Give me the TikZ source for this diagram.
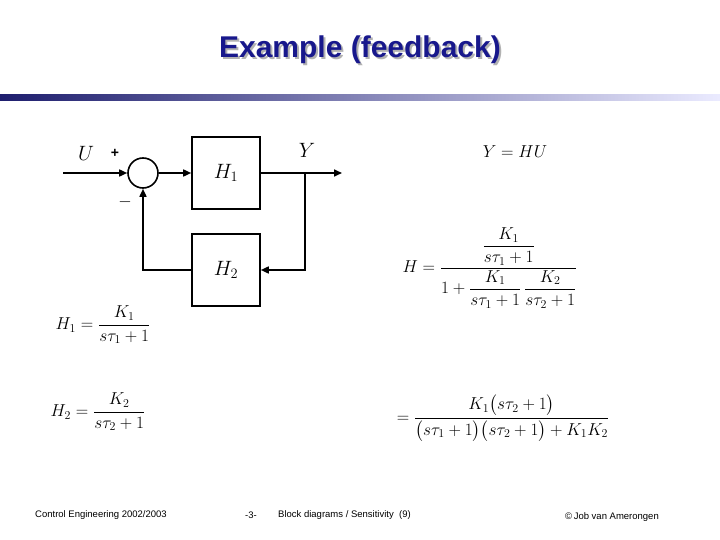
\documentclass[tikz,border=0pt]{standalone}
\usepackage{amsmath}
\usepackage{fontspec}
\setmainfont{Liberation Sans}
\usetikzlibrary{positioning, arrows.meta, calc, shadows}

\definecolor{titleblue}{RGB}{24,24,140}
\definecolor{barblue}{RGB}{30,30,110}

\begin{document}
\begin{tikzpicture}[
  x=1pt, y=-1pt,
  block/.style={draw, line width=1.6pt, minimum width=68pt, minimum height=72pt, font=\fontsize{20}{22}\selectfont},
  sumnode/.style={draw, circle, line width=1.6pt, minimum size=30pt, inner sep=0pt},
  sig/.style={line width=1.6pt, -{Triangle[length=8pt,width=7pt]}},
  eqn/.style={font=\fontsize{17}{20}\selectfont, inner sep=0pt},
  foot/.style={font=\fontsize{9.5}{11}\selectfont, anchor=west, inner sep=0pt}
]
\useasboundingbox (0,0) rectangle (720,540);

% Title and bar
\node[font=\fontsize{30}{34}\selectfont\bfseries, text=gray!60] at (362,52) {Example (feedback)};
\node[font=\fontsize{30}{34}\selectfont\bfseries, text=titleblue] (title) at (360,50) {Example (feedback)};
\shade[left color=barblue, right color=blue!8] (0,95) rectangle (720,101);

% Block diagram
\coordinate (in) at (63,173);
\node[sumnode] (sum) at (143,173) {};
\node[block] (h1) at (226,173) {$H_1$};
\node[block] (h2) at (226,270) {$H_2$};
\coordinate (branch) at (305,173);
\coordinate (out) at (342,173);

\draw[sig] (in) -- (sum);
\draw[sig] (sum) -- (h1);
\draw[sig] (h1) -- (out);
\draw[sig] (branch) |- (h2);
\draw[sig] (h2) -| (sum);

\node[font=\fontsize{20}{22}\selectfont] (ulabel) at (86,153) {$U$};
\node[font=\fontsize{14}{16}\selectfont\bfseries] (plus) at (115,153) {+};
\node[font=\fontsize{18}{20}\selectfont] (minus) at (125,202) {$-$};
\node[font=\fontsize{20}{22}\selectfont] (ylabel) at (307,150) {$Y$};

% Equations left
\node[eqn] (eqh1) at (103,325) {$H_1=\dfrac{K_1}{s\tau_1+1}$};
\node[eqn] (eqh2) at (98,412) {$H_2=\dfrac{K_2}{s\tau_2+1}$};

% Equations right
\node[eqn] (eqy) at (515,152) {$Y=HU$};
\node[eqn] (eqh) at (490,268) {$H=\dfrac{\dfrac{K_1}{s\tau_1+1}}{1+\dfrac{K_1}{s\tau_1+1}\,\dfrac{K_2}{s\tau_2+1}}$};
\node[eqn] (eqres) at (503,418) {$=\dfrac{K_1\bigl(s\tau_2+1\bigr)}{\bigl(s\tau_1+1\bigr)\bigl(s\tau_2+1\bigr)+K_1K_2}$};

% Footer
\node[foot] (f1) at (35,515) {Control Engineering 2002/2003};
\node[foot] (f2) at (245,515) {-3-};
\node[foot] (f3) at (278,515) {Block diagrams / Sensitivity\ \ (9)};
\node[foot] (f4) at (565,517) {\textcopyright\,Job van Amerongen};
\end{tikzpicture}
\end{document}
